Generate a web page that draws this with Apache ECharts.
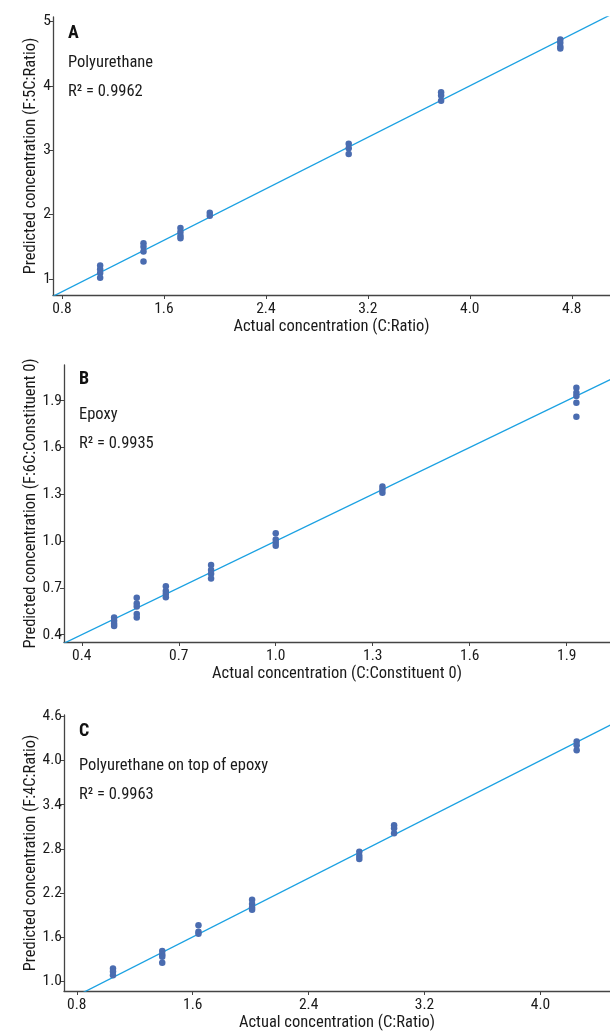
<!DOCTYPE html>
<html><head><meta charset="utf-8">
<script src="https://cdn.jsdelivr.net/npm/echarts@6/dist/echarts.min.js"></script>
<style>html,body{margin:0;padding:0;background:#fff}#c{width:610px;height:1032px}</style>
</head><body><div id="c"></div>
<script>
// Panel A: Polyurethane
const pointsA = [
  [1.10,1.21],[1.10,1.15],[1.10,1.09],[1.10,1.02],
  [1.44,1.555],[1.44,1.50],[1.44,1.425],[1.44,1.27],
  [1.73,1.79],[1.73,1.73],[1.73,1.67],[1.73,1.63],
  [1.96,2.03],[1.96,1.98],
  [3.05,3.10],[3.05,3.03],[3.05,2.94],
  [3.775,3.90],[3.775,3.85],[3.775,3.77],
  [4.71,4.72],[4.71,4.67],[4.71,4.61],[4.71,4.58]
];
const fitA = [[0.6,0.6],[5.3,5.3]];
const xTicksA = [0.8,1.6,2.4,3.2,4.0,4.8];
const yTicksA = [1,2,3,4,5];

// Panel B: Epoxy
const pointsB = [
  [0.50,0.51],[0.50,0.49],[0.50,0.47],[0.50,0.455],
  [0.57,0.637],[0.57,0.60],[0.57,0.58],[0.57,0.533],[0.57,0.51],
  [0.66,0.71],[0.66,0.68],[0.66,0.66],[0.66,0.64],
  [0.80,0.847],[0.80,0.815],[0.80,0.79],[0.80,0.76],
  [1.00,1.05],[1.00,1.01],[1.00,0.99],[1.00,0.97],
  [1.33,1.35],[1.33,1.33],[1.33,1.31],
  [1.93,1.983],[1.93,1.951],[1.93,1.93],[1.93,1.887],[1.93,1.797]
];
const fitB = [[0.3,0.3],[2.1,2.1]];
const xTicksB = [0.4,0.7,1.0,1.3,1.6,1.9];
const yTicksB = [0.4,0.7,1.0,1.3,1.6,1.9];

// Panel C: Polyurethane on top of epoxy
const pointsC = [
  [1.05,1.17],[1.05,1.13],[1.05,1.08],
  [1.39,1.41],[1.39,1.36],[1.39,1.33],[1.39,1.25],
  [1.64,1.76],[1.64,1.67],[1.64,1.645],
  [2.01,2.105],[2.01,2.05],[2.01,2.00],[2.01,1.97],
  [2.75,2.76],[2.75,2.70],[2.75,2.66],
  [2.99,3.12],[2.99,3.08],[2.99,3.01],
  [4.25,4.26],[4.25,4.21],[4.25,4.14]
];
const fitC = [[0.6,0.6],[4.6,4.6]];
const xTicksC = [0.8,1.6,2.4,3.2,4.0];
const yTicksC = [1.0,1.6,2.2,2.8,3.4,4.0,4.6];

const panelLetters = ['A','B','C'];
const panelNames = ['Polyurethane','Epoxy','Polyurethane on top of epoxy'];
const r2Values = ['0.9962','0.9935','0.9963'];
const xNames = ['Actual concentration (C:Ratio)','Actual concentration (C:Constituent 0)','Actual concentration (C:Ratio)'];
const yNames = ['Predicted concentration (F:5C:Ratio)','Predicted concentration (F:6C:Constituent 0)','Predicted concentration (F:4C:Ratio)'];

const FONT = "'Roboto Condensed','DejaVu Sans Condensed',sans-serif";
const AX = '#444';
const DOT = '#4a6cb0';
const LINE = '#1ba1e2';
const TXT = '#1a1a1a';

const grids = [
  {left:53, right:0, top:17, height:278},
  {left:64, right:0, top:365, height:277},
  {left:64, right:0, top:715, height:277.7}
];
const xr = [[0.73,5.1],[0.345,2.034],[0.712,4.48]];
const yr = [[0.75,5.07],[0.353,2.129],[0.865,4.62]];
const xt = [xTicksA,xTicksB,xTicksC];
const yt = [yTicksA,yTicksB,yTicksC];
const fmtX = [v=>v.toFixed(1), v=>v.toFixed(1), v=>v.toFixed(1)];
const fmtY = [v=>String(Math.round(v)), v=>v.toFixed(1), v=>v.toFixed(1)];
const yNameGap = [14, 25, 25];

const xAxis = [], yAxis = [], series = [], graphic = [];
for (let i=0;i<3;i++){
  xAxis.push({
    type:'value', gridIndex:i, min:xr[i][0], max:xr[i][1],
    name:xNames[i], nameLocation:'middle', nameGap:23, nameMoveOverlap:false,
    nameTextStyle:{fontFamily:FONT, fontSize:16.5, color:TXT},
    splitLine:{show:false},
    axisLine:{show:true, lineStyle:{color:AX, width:1.3}},
    axisTick:{show:true, length:4, customValues:xt[i], lineStyle:{color:AX}},
    axisLabel:{customValues:xt[i], formatter:fmtX[i], fontFamily:FONT, fontSize:15.5, color:TXT, margin:6}
  });
  yAxis.push({
    type:'value', gridIndex:i, min:yr[i][0], max:yr[i][1],
    name:yNames[i], nameLocation:'middle', nameGap:yNameGap[i], nameRotate:90, nameMoveOverlap:false,
    nameTextStyle:{fontFamily:FONT, fontSize:16.5, color:TXT},
    splitLine:{show:false},
    axisLine:{show:true, lineStyle:{color:AX, width:1.3}},
    axisTick:{show:true, length:4, customValues:yt[i], lineStyle:{color:AX}},
    axisLabel:{customValues:yt[i], formatter:fmtY[i], fontFamily:FONT, fontSize:15.5, color:TXT, margin:2}
  });
}
const pts = [pointsA,pointsB,pointsC];
const fits = [fitA,fitB,fitC];
for (let i=0;i<3;i++){
  series.push({type:'line', xAxisIndex:i, yAxisIndex:i, data:fits[i], showSymbol:false, symbol:'none',
    clip:true, lineStyle:{color:LINE, width:1.3}, z:2, silent:true});
  series.push({type:'scatter', xAxisIndex:i, yAxisIndex:i, data:pts[i], symbolSize:6.5,
    itemStyle:{color:DOT, opacity:1}, z:3});
}
const letterPos = [[68,24],[79,370],[79,722]];
const namePos = [[68,54],[79,406],[79,757]];
const r2Pos = [[68,83],[79,435],[79,786]];
for (let i=0;i<3;i++){
  graphic.push({type:'text', left:letterPos[i][0], top:letterPos[i][1],
    style:{text:panelLetters[i], font:"bold 18px "+FONT, fill:'#111'}});
  graphic.push({type:'text', left:namePos[i][0], top:namePos[i][1],
    style:{text:panelNames[i], font:"16.5px "+FONT, fill:TXT}});
  graphic.push({type:'text', left:r2Pos[i][0], top:r2Pos[i][1],
    style:{text:'R² = '+r2Values[i], font:"16.5px "+FONT, fill:TXT}});
}

const chart = echarts.init(document.getElementById('c'));
chart.setOption({animation:false, backgroundColor:'#fff', grid:grids, xAxis, yAxis, series, graphic});
</script></body></html>
